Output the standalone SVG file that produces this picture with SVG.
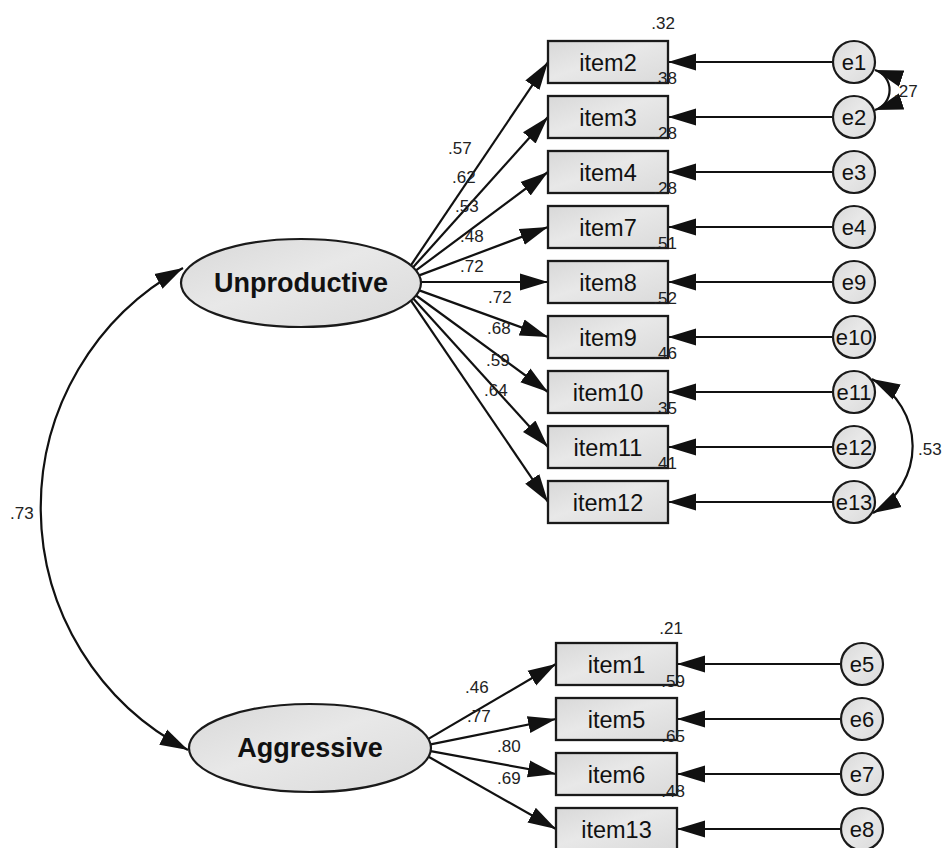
<svg xmlns="http://www.w3.org/2000/svg" width="945" height="848" viewBox="0 0 945 848">
<style>
.box{fill:url(#g);stroke:#1a1a1a;stroke-width:2.3}
.lat{fill:url(#g);stroke:#1a1a1a;stroke-width:2.2}
.err{fill:url(#g);stroke:#1a1a1a;stroke-width:2.2}
.it{font-family:"Liberation Sans",Arial,sans-serif;font-size:23.5px;fill:#111;text-anchor:middle}
.et{font-family:"Liberation Sans",Arial,sans-serif;font-size:22px;fill:#111;text-anchor:middle}
.lt{font-family:"Liberation Sans",Arial,sans-serif;font-size:27px;font-weight:bold;fill:#111;text-anchor:middle}
.n{font-family:"Liberation Sans",Arial,sans-serif;font-size:17px;fill:#222}
.r{text-anchor:end}
.c path,.c line{fill:none;stroke:#111;stroke-width:2.2}
.a{marker-end:url(#ah)}
.b{marker-start:url(#ahs);marker-end:url(#ah)}
</style>
<defs>
<linearGradient id="g" x1="0" y1="0" x2="1" y2="1">
<stop offset="0" stop-color="#d8d8d8"/>
<stop offset="0.45" stop-color="#e8e8e8"/>
<stop offset="1" stop-color="#dadada"/>
</linearGradient>
<marker id="ah" markerUnits="userSpaceOnUse" markerWidth="28" markerHeight="18" refX="28" refY="9" orient="auto">
<path d="M0,0.5 L28,9 L0,17.5 z" fill="#111"/>
</marker>
<marker id="ahs" markerUnits="userSpaceOnUse" markerWidth="28" markerHeight="18" refX="28" refY="9" orient="auto-start-reverse">
<path d="M0,0.5 L28,9 L0,17.5 z" fill="#111"/>
</marker>
</defs>
<rect width="945" height="848" fill="#fff"/>

<g id="connectors" class="c">
<line class="a" x1="410.9" y1="265.3" x2="548" y2="62"/>
<line class="a" x1="413.1" y1="267.3" x2="548" y2="117"/>
<line class="a" x1="416.0" y1="270.4" x2="548" y2="172"/>
<line class="a" x1="419.2" y1="275.4" x2="548" y2="227"/>
<line class="a" x1="421" y1="282" x2="548" y2="282"/>
<line class="a" x1="419.3" y1="290.4" x2="548" y2="337"/>
<line class="a" x1="416.1" y1="295.5" x2="548" y2="392"/>
<line class="a" x1="413.2" y1="298.6" x2="548" y2="447"/>
<line class="a" x1="411.0" y1="300.6" x2="548" y2="502"/>
<line class="a" x1="428.4" y1="738.9" x2="556" y2="664"/>
<line class="a" x1="430.6" y1="744.4" x2="556" y2="719"/>
<line class="a" x1="430.7" y1="751.2" x2="556" y2="774"/>
<line class="a" x1="428.6" y1="756.8" x2="556" y2="829"/>
<line class="a" x1="833" y1="62" x2="668" y2="62"/>
<line class="a" x1="833" y1="117" x2="668" y2="117"/>
<line class="a" x1="833" y1="172" x2="668" y2="172"/>
<line class="a" x1="833" y1="227" x2="668" y2="227"/>
<line class="a" x1="833" y1="282" x2="668" y2="282"/>
<line class="a" x1="833" y1="337" x2="668" y2="337"/>
<line class="a" x1="833" y1="392" x2="668" y2="392"/>
<line class="a" x1="833" y1="447" x2="668" y2="447"/>
<line class="a" x1="833" y1="502" x2="668" y2="502"/>
<line class="a" x1="841" y1="664" x2="677" y2="664"/>
<line class="a" x1="841" y1="719" x2="677" y2="719"/>
<line class="a" x1="841" y1="774" x2="677" y2="774"/>
<line class="a" x1="841" y1="829" x2="677" y2="829"/>
<path class="b" d="M183,268 A273,273 0 0 0 188,750"/>
<path class="b" d="M875,70 A21,21 0 0 1 875,110"/>
<path class="b" d="M872,379 A76,76 0 0 1 873,513"/>
</g>

<g id="Unproductive"><ellipse class="lat" cx="301" cy="283" rx="120" ry="44"/><text class="lt" x="301" y="292">Unproductive</text></g>
<g id="Aggressive"><ellipse class="lat" cx="310" cy="748" rx="121" ry="44"/><text class="lt" x="310" y="757">Aggressive</text></g>

<g id="item2"><rect class="box" x="548" y="41" width="120" height="42"/><text class="it" x="608" y="70.5">item2</text></g>
<g id="item3"><rect class="box" x="548" y="96" width="120" height="42"/><text class="it" x="608" y="125.5">item3</text></g>
<g id="item4"><rect class="box" x="548" y="151" width="120" height="42"/><text class="it" x="608" y="180.5">item4</text></g>
<g id="item7"><rect class="box" x="548" y="206" width="120" height="42"/><text class="it" x="608" y="235.5">item7</text></g>
<g id="item8"><rect class="box" x="548" y="261" width="120" height="42"/><text class="it" x="608" y="290.5">item8</text></g>
<g id="item9"><rect class="box" x="548" y="316" width="120" height="42"/><text class="it" x="608" y="345.5">item9</text></g>
<g id="item10"><rect class="box" x="548" y="371" width="120" height="42"/><text class="it" x="608" y="400.5">item10</text></g>
<g id="item11"><rect class="box" x="548" y="426" width="120" height="42"/><text class="it" x="608" y="455.5">item11</text></g>
<g id="item12"><rect class="box" x="548" y="481" width="120" height="42"/><text class="it" x="608" y="510.5">item12</text></g>

<g id="item1"><rect class="box" x="556" y="643" width="121" height="42"/><text class="it" x="616.5" y="672.5">item1</text></g>
<g id="item5"><rect class="box" x="556" y="698" width="121" height="42"/><text class="it" x="616.5" y="727.5">item5</text></g>
<g id="item6"><rect class="box" x="556" y="753" width="121" height="42"/><text class="it" x="616.5" y="782.5">item6</text></g>
<g id="item13"><rect class="box" x="556" y="808" width="121" height="42"/><text class="it" x="616.5" y="837.5">item13</text></g>

<g id="e1"><circle class="err" cx="854" cy="62" r="21"/><text class="et" x="854" y="70">e1</text></g>
<g id="e2"><circle class="err" cx="854" cy="117" r="21"/><text class="et" x="854" y="125">e2</text></g>
<g id="e3"><circle class="err" cx="854" cy="172" r="21"/><text class="et" x="854" y="180">e3</text></g>
<g id="e4"><circle class="err" cx="854" cy="227" r="21"/><text class="et" x="854" y="235">e4</text></g>
<g id="e9"><circle class="err" cx="854" cy="282" r="21"/><text class="et" x="854" y="290">e9</text></g>
<g id="e10"><circle class="err" cx="854" cy="337" r="21"/><text class="et" x="854" y="345">e10</text></g>
<g id="e11"><circle class="err" cx="854" cy="392" r="21"/><text class="et" x="854" y="400">e11</text></g>
<g id="e12"><circle class="err" cx="854" cy="447" r="21"/><text class="et" x="854" y="455">e12</text></g>
<g id="e13"><circle class="err" cx="854" cy="502" r="21"/><text class="et" x="854" y="510">e13</text></g>
<g id="e5"><circle class="err" cx="862" cy="664" r="21"/><text class="et" x="862" y="672">e5</text></g>
<g id="e6"><circle class="err" cx="862" cy="719" r="21"/><text class="et" x="862" y="727">e6</text></g>
<g id="e7"><circle class="err" cx="862" cy="774" r="21"/><text class="et" x="862" y="782">e7</text></g>
<g id="e8"><circle class="err" cx="862" cy="829" r="21"/><text class="et" x="862" y="837">e8</text></g>

<g id="labels">
<text class="n" x="448" y="154">.57</text>
<text class="n" x="452" y="183">.62</text>
<text class="n" x="455" y="212">.53</text>
<text class="n" x="460" y="242">.48</text>
<text class="n" x="460" y="272">.72</text>
<text class="n" x="488" y="303">.72</text>
<text class="n" x="487" y="334">.68</text>
<text class="n" x="486" y="366">.59</text>
<text class="n" x="484" y="396">.64</text>
<text class="n r" x="675" y="29">.32</text>
<text class="n r" x="677" y="84">.38</text>
<text class="n r" x="677" y="139">.28</text>
<text class="n r" x="677" y="194">.28</text>
<text class="n r" x="677" y="249">.51</text>
<text class="n r" x="677" y="304">.52</text>
<text class="n r" x="677" y="359">.46</text>
<text class="n r" x="677" y="414">.35</text>
<text class="n r" x="677" y="469">.41</text>
<text class="n" x="894" y="97">.27</text>
<text class="n" x="918" y="455">.53</text>
<text class="n" x="10" y="519">.73</text>
<text class="n r" x="683" y="634">.21</text>
<text class="n r" x="685" y="687">.59</text>
<text class="n r" x="685" y="742">.65</text>
<text class="n r" x="685" y="797">.48</text>
<text class="n" x="465" y="693">.46</text>
<text class="n" x="467" y="722">.77</text>
<text class="n" x="497" y="752">.80</text>
<text class="n" x="497" y="784">.69</text>
</g>
</svg>
